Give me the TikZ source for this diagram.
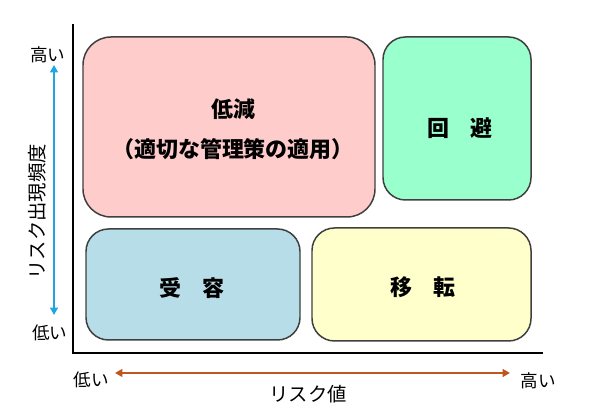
\documentclass[tikz,border=0pt]{standalone}
\usepackage{fontspec}
\setmainfont{Noto Sans CJK JP}
\usepackage{xcolor}
\usepackage{tikz}
\usetikzlibrary{arrows.meta}
\definecolor{edge}{HTML}{3F3F3F}
\definecolor{reducefill}{HTML}{FFCCCC}
\definecolor{avoidfill}{HTML}{99FFCC}
\definecolor{acceptfill}{HTML}{B7DEE8}
\definecolor{transferfill}{HTML}{FFFFCC}
\definecolor{freqblue}{HTML}{1FA6DE}
\definecolor{valuebrown}{HTML}{C0561E}
\tikzset{
  zone/.style={draw=edge, line width=0.85pt, rectangle, inner sep=0pt},
  zonelab/.style={font=\fontsize{12.5}{22.7}\selectfont\bfseries, align=center},
  axisline/.style={draw=black, line width=1.5pt},
  scalearr/.style={line width=1.4pt, {Triangle[length=4.2pt,width=4.4pt]}-{Triangle[length=4.2pt,width=4.4pt]}},
  labs/.style={font=\fontsize{10}{12}\selectfont},
  labt/.style={font=\fontsize{11}{13}\selectfont}
}

\begin{document}
\begin{tikzpicture}
  \useasboundingbox (0,0) rectangle (11.8,8.32);

  % axes
  \coordinate (O) at (1.46,1.26);
  \coordinate (ytop) at (1.46,7.84);
  \coordinate (xend) at (10.86,1.26);
  \draw[axisline] (ytop) -- (O) -- (xend);

  % zones
  \node[zone, fill=reducefill, rounded corners=0.56cm, minimum width=5.84cm, minimum height=3.6cm] (reduce) at (4.58,5.78) {};
  \node[zone, fill=avoidfill, rounded corners=0.45cm, minimum width=2.96cm, minimum height=3.26cm] (avoid) at (9.14,5.95) {};
  \node[zone, fill=acceptfill, rounded corners=0.45cm, minimum width=4.28cm, minimum height=2.22cm] (accept) at (3.86,2.63) {};
  \node[zone, fill=transferfill, rounded corners=0.45cm, minimum width=4.38cm, minimum height=2.26cm] (transfer) at (8.43,2.63) {};

  \node[zonelab] (reducetxt) at (4.66,5.74) {低減\\（適切な管理策の適用）};
  \node[zonelab] (avoidtxt) at (9.20,5.76) {回　避};
  \node[zonelab] (accepttxt) at (3.84,2.56) {受　容};
  \node[zonelab] (transfertxt) at (8.46,2.58) {移　転};

  % frequency scale
  \coordinate (flow) at (1.08,2.02);
  \coordinate (fhigh) at (1.08,7.02);
  \draw[scalearr, draw=freqblue, fill=freqblue] (flow) -- (fhigh);
  \node[labs] (fhightxt) at (0.96,7.22) {高い};
  \node[labs] (flowtxt) at (1.00,1.66) {低い};
  \node[labt, rotate=90] (freqtxt) at (0.74,4.08) {リスク出現頻度};

  % value scale
  \coordinate (vlow) at (2.30,0.86);
  \coordinate (vhigh) at (10.20,0.86);
  \draw[scalearr, draw=valuebrown, fill=valuebrown] (vlow) -- (vhigh);
  \node[labs] (vlowtxt) at (1.82,0.72) {低い};
  \node[labs] (vhightxt) at (10.76,0.70) {高い};
  \node[labt] (valuetxt) at (6.16,0.44) {リスク値};
\end{tikzpicture}
\end{document}
